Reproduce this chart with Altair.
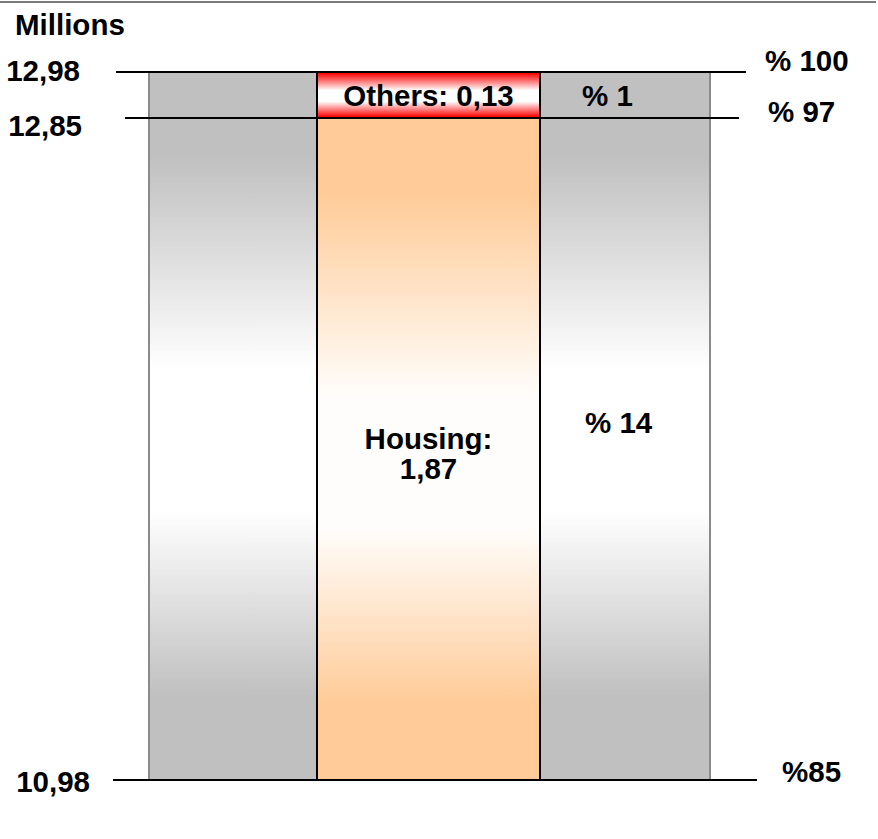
import altair as alt
import pandas as pd

# ---------------- data ----------------
unit_label = "Millions"
base_value = 10.98
segment_names = ["Housing", "Others"]
segment_values = [1.87, 0.13]
segment_texts = ["Housing:\n1,87", "Others: 0,13"]
segment_shares = ["% 14", "% 1"]
level_values = [12.98, 12.85, 10.98]
level_labels = ["12,98", "12,85", "10,98"]
level_shares = ["% 100", "% 97", "%85"]

# ---------------- layout / style ----------------
W, H = 878, 839
Y_TOP, Y_BOTTOM = 72, 780
FONT = "Liberation Sans"
FS = 29.5
BACK_X = (149, 710)
BAR_X = (317, 540)
LINE_X0 = [116, 125, 113]
LINE_X1 = [746, 739, 757]
LEFT_LABEL_X = [80, 82, 90]
LEFT_LABEL_DY = [0, 9, 3]
RIGHT_LABEL_X = [765, 768, 782]
RIGHT_LABEL_DY = [-10, -5, -7]
SEG_TEXT_DY = [-9, 2]
SEG_SHARE_X = [585, 582]
SEG_SHARE_DY = [-25, 2]


def vgrad(edge, mid, plateau=0.12, core=0.1):
    return {
        "gradient": "linear",
        "x1": 0, "x2": 0, "y1": 0, "y2": 1,
        "stops": [
            {"offset": 0, "color": edge},
            {"offset": plateau, "color": edge},
            {"offset": 0.52 - core, "color": mid},
            {"offset": 0.52 + core, "color": mid},
            {"offset": 1 - plateau, "color": edge},
            {"offset": 1, "color": edge},
        ],
    }


SEG_FILLS = [vgrad("#ffcc99", "#fffdfb"), vgrad("#ff0000", "#ffffff", plateau=0.02, core=0.12)]

bottoms = []
acc = base_value
for v in segment_values:
    bottoms.append(acc)
    acc = round(acc + v, 4)
tops = [round(b + v, 4) for b, v in zip(bottoms, segment_values)]
total_top = tops[-1]

xs = alt.Scale(domain=[0, W], range=[0, W])
ys = alt.Scale(domain=[base_value, total_top], range=[Y_BOTTOM, Y_TOP], nice=False, zero=False)

X = lambda f: alt.X(f, type="quantitative", scale=xs, axis=None)
Y = lambda f: alt.Y(f, type="quantitative", scale=ys, axis=None)

TXT = dict(font=FONT, fontSize=FS, fontWeight="bold", baseline="middle", color="#000000")

layers = []

# top frame line
layers.append(
    alt.Chart(pd.DataFrame({"a": [0]})).mark_rule(color="#7a7a7a", strokeWidth=2).encode(
        x=alt.value(0), x2=alt.value(W - 2), y=alt.value(2)
    )
)

# background gray column
back = pd.DataFrame({"x0": [BACK_X[0]], "x1": [BACK_X[1]], "y0": [base_value], "y1": [total_top]})
layers.append(
    alt.Chart(back).mark_rect(fill=vgrad("#c0c0c0", "#ffffff"), stroke="#8a8a8a", strokeWidth=2).encode(
        x=X("x0"), x2="x1", y=Y("y0"), y2="y1"
    )
)

# stacked segments
for i, name in enumerate(segment_names):
    d = pd.DataFrame({"x0": [BAR_X[0]], "x1": [BAR_X[1]], "y0": [bottoms[i]], "y1": [tops[i]],
                      "mid": [(bottoms[i] + tops[i]) / 2], "xm": [(BAR_X[0] + BAR_X[1]) / 2],
                      "text": [segment_texts[i]], "share": [segment_shares[i]], "sx": [SEG_SHARE_X[i]]})
    layers.append(
        alt.Chart(d).mark_rect(fill=SEG_FILLS[i], stroke="#000000", strokeWidth=2).encode(
            x=X("x0"), x2="x1", y=Y("y0"), y2="y1"
        )
    )
    layers.append(
        alt.Chart(d).mark_text(align="center", lineBreak="\n", lineHeight=30,
                               dy=SEG_TEXT_DY[i], **TXT).encode(
            x=X("xm"), y=Y("mid"), text="text:N"
        )
    )
    layers.append(
        alt.Chart(d).mark_text(align="left", dy=SEG_SHARE_DY[i], **TXT).encode(
            x=X("sx"), y=Y("mid"), text="share:N"
        )
    )

# level lines and labels
for i, lv in enumerate(level_values):
    d = pd.DataFrame({"y": [lv], "x0": [LINE_X0[i]], "x1": [LINE_X1[i]],
                      "lx": [LEFT_LABEL_X[i]], "rx": [RIGHT_LABEL_X[i]],
                      "label": [level_labels[i]], "share": [level_shares[i]]})
    layers.append(
        alt.Chart(d).mark_rule(color="#000000", strokeWidth=2).encode(
            x=X("x0"), x2="x1", y=Y("y")
        )
    )
    layers.append(
        alt.Chart(d).mark_text(align="right", dy=LEFT_LABEL_DY[i], **TXT).encode(
            x=X("lx"), y=Y("y"), text="label:N"
        )
    )
    layers.append(
        alt.Chart(d).mark_text(align="left", dy=RIGHT_LABEL_DY[i], **TXT).encode(
            x=X("rx"), y=Y("y"), text="share:N"
        )
    )

# unit label
layers.append(
    alt.Chart(pd.DataFrame({"t": [unit_label]})).mark_text(align="left", **TXT).encode(
        x=alt.value(15), y=alt.value(26), text="t:N"
    )
)

chart = alt.layer(*layers).properties(
    width=W, height=H, autosize=alt.AutoSizeParams(type="none"), padding=0, background="#ffffff"
).configure_view(stroke=None)

chart.save("out.html", embed_options={"renderer": "svg", "actions": False})
